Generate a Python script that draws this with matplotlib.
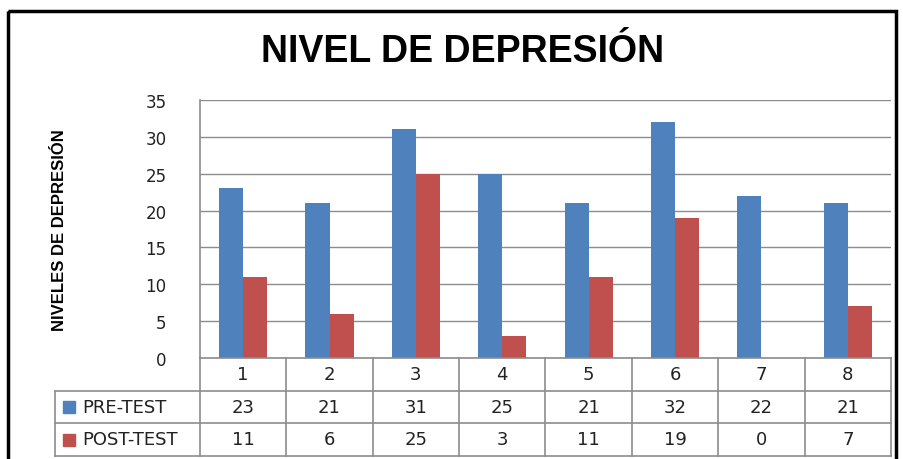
import matplotlib.pyplot as plt
from matplotlib.patches import Rectangle

categories = ["1", "2", "3", "4", "5", "6", "7", "8"]
pre_test = [23, 21, 31, 25, 21, 32, 22, 21]
post_test = [11, 6, 25, 3, 11, 19, 0, 7]
series_names = ["PRE-TEST", "POST-TEST"]
colors = ["#4F81BD", "#C0504D"]
grid_col = "#8C8C8C"

W, H = 904, 460
fig = plt.figure(figsize=(W / 100, H / 100), dpi=100)


def fx(px):
    return px / W


def fy(py):
    return 1 - py / H


# plot area in pixels
left, right, top, base = 200, 891, 101, 359
ax = fig.add_axes([fx(left), fy(base), fx(right - left), fy(top) - fy(base)])

n = len(categories)
xs = list(range(n))
bw = 0.28
ax.bar([x - bw / 2 for x in xs], pre_test, width=bw, color=colors[0], zorder=3)
ax.bar([x + bw / 2 for x in xs], post_test, width=bw, color=colors[1], zorder=3)
ax.set_xlim(-0.5, n - 0.5)
ax.set_ylim(0, 35)
ax.set_yticks(range(0, 36, 5))
ax.yaxis.grid(True, color=grid_col, linewidth=1.0, zorder=0)
ax.set_xticks([])
for s in ["top", "right", "bottom"]:
    ax.spines[s].set_visible(False)
ax.spines["left"].set_color(grid_col)
ax.spines["left"].set_linewidth(1.2)
ax.tick_params(axis="y", length=0, pad=24, labelsize=12, labelcolor="#222222")

# data table below the plot
tbl_left = 55
rows = [359, 392, 424, 457]
step = (right - left) / n
tax = fig.add_axes([0, 0, 1, 1], facecolor="none")
tax.set_xlim(0, W)
tax.set_ylim(H, 0)
tax.axis("off")

lk = dict(color=grid_col, linewidth=1.2)
tax.plot([left, right], [rows[0], rows[0]], **lk)
for r in rows[1:]:
    tax.plot([tbl_left, right], [r, r], **lk)
tax.plot([tbl_left, tbl_left], [rows[1], rows[3]], **lk)
for i in range(n + 1):
    x = left + i * step
    tax.plot([x, x], [rows[0], rows[3]], **lk)

tk = dict(ha="center", va="center", fontsize=13, color="#222222")
for i, c in enumerate(categories):
    cx = left + (i + 0.5) * step
    tax.text(cx, (rows[0] + rows[1]) / 2, c, **tk)
    tax.text(cx, (rows[1] + rows[2]) / 2, str(pre_test[i]), **tk)
    tax.text(cx, (rows[2] + rows[3]) / 2, str(post_test[i]), **tk)

for j, name in enumerate(series_names):
    yc = (rows[j + 1] + rows[j + 2]) / 2
    tax.add_patch(Rectangle((63, yc - 6), 12, 12, color=colors[j]))
    tax.text(82, yc, name, ha="left", va="center", fontsize=13, color="#222222")

# title, axis label, outer frame
tax.text(463, 52, "NIVEL DE DEPRESIÓN", ha="center", va="center", fontsize=27,
         fontweight="bold", family=["Liberation Sans Narrow", "Liberation Sans"])
tax.text(60, 230, "NIVELES DE DEPRESIÓN", ha="center", va="center", rotation=90,
         fontsize=12, fontweight="bold", family=["Liberation Sans Narrow", "Liberation Sans"])
tax.add_patch(Rectangle((8, 12), 888, 470, fill=False, edgecolor="black", linewidth=2.5,
                        clip_on=False))

fig.savefig("out.png", dpi=100)
